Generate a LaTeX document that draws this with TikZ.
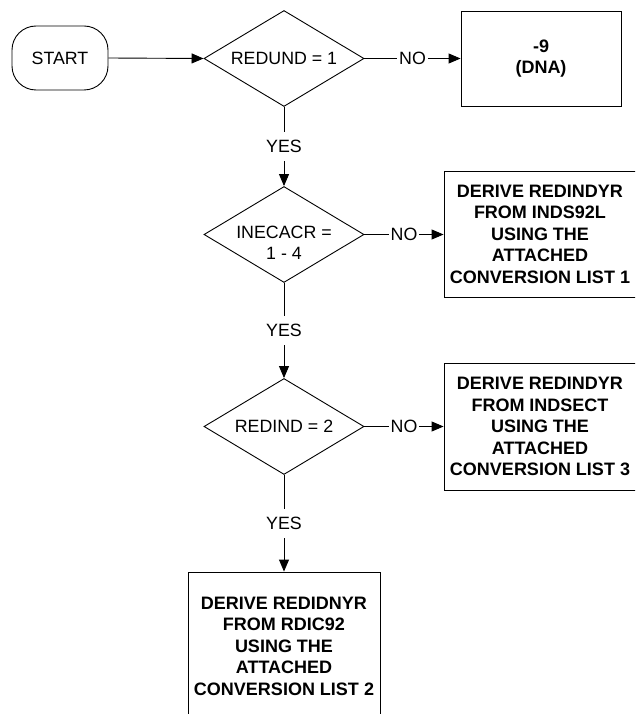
\documentclass[tikz,border=0pt]{standalone}
\usepackage{fontspec}
\setmainfont{Liberation Sans}
\usetikzlibrary{shapes.geometric,arrows.meta}
\begin{document}
\begin{tikzpicture}[x=1pt,y=-1pt,
  line width=0.9pt,
  reg/.style={font=\fontsize{17.8}{21}\selectfont},
  bld/.style={font=\bfseries\fontsize{18}{21.5}\selectfont},
  startbox/.style={draw,rectangle,rounded corners=24pt,minimum width=96pt,minimum height=64pt,reg},
  decide/.style={draw,diamond,inner sep=0pt,minimum width=160pt,minimum height=96pt},
  outbox/.style={draw,rectangle,align=center,inner sep=0pt,bld},
  flow/.style={-{Triangle[length=12pt,width=10pt]}},
  lbl/.style={fill=white,inner xsep=2pt,inner ysep=8pt,text height=12.5pt,text depth=0pt,reg}
]
\useasboundingbox (0,0) rectangle (635,714);
\clip (0,0) rectangle (635,714);

\node[startbox] (start) at (60,58) {START};

\node[decide] (d1) at (284,58.5) {};
\node[reg] (d1t) at (d1.center) {REDUND = 1};

\node[decide] (d2) at (284,234.5) {};
\node[reg,align=center,anchor=north] (d2t) at (284,222) {INECACR =\\1 - 4};

\node[decide] (d3) at (284,426.5) {};
\node[reg] (d3t) at (d3.center) {REDIND = 2};

\node[outbox,minimum width=160pt,minimum height=95pt] (b1) at (541,58.5) {-9\\(DNA)};
\node[outbox,minimum width=192pt,minimum height=126pt] (b2) at (540,234) {DERIVE REDINDYR\\FROM INDS92L\\USING THE\\ATTACHED\\CONVERSION LIST 1};
\node[outbox,minimum width=192pt,minimum height=127pt] (b3) at (540,426.5) {DERIVE REDINDYR\\FROM INDSECT\\USING THE\\ATTACHED\\CONVERSION LIST 3};
\node[outbox,minimum width=192pt,minimum height=148pt] (b4) at (284,646) {DERIVE REDIDNYR\\FROM RDIC92\\USING THE\\ATTACHED\\CONVERSION LIST 2};

\draw[flow] (start.east) -- (d1.west);
\draw[flow] (d1.east) -- node[lbl] {NO} (b1.west);
\draw[flow] (d1.south) -- node[lbl] {YES} (d2.north);
\draw[flow] (d2.east) -- node[lbl] {NO} (b2.west |- d2.east);
\draw[flow] (d2.south) -- node[lbl] {YES} (d3.north);
\draw[flow] (d3.east) -- node[lbl] {NO} (b3.west |- d3.east);
\draw[flow] (d3.south) -- node[lbl] {YES} (b4.north);
\end{tikzpicture}
\end{document}
